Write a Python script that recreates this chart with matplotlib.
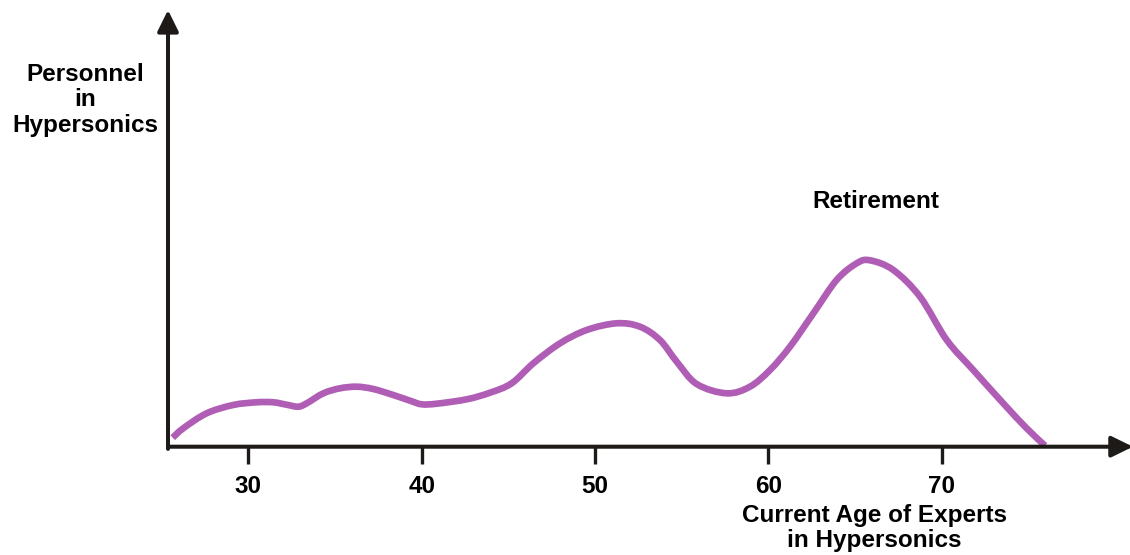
import numpy as np
import matplotlib.pyplot as plt
from matplotlib.path import Path
from matplotlib.patches import PathPatch

plt.rcParams['font.family'] = ['Liberation Sans', 'DejaVu Sans']
plt.rcParams['font.weight'] = 'bold'

# current age of experts (years) and relative personnel count
age = [25.64, 26.25, 27.60, 29.13, 30.48, 31.44, 32.21, 32.88, 33.37, 34.33,
       35.29, 36.25, 37.21, 38.36, 39.33, 40.00, 40.87, 42.60, 43.94, 45.19,
       46.44, 47.98, 49.52, 51.25, 52.59, 53.74, 54.71, 55.86, 57.59, 58.93,
       60.09, 61.24, 62.59, 63.93, 65.09, 65.85, 67.20, 68.74, 70.28, 71.81,
       73.54, 74.89, 75.95]
personnel = [9.0, 18.4, 33.4, 41.7, 44.4, 44.4, 42.0, 40.0, 43.4, 53.4,
             58.4, 60.0, 57.7, 51.7, 46.0, 42.4, 43.0, 47.4, 54.0, 63.4,
             83.4, 103.4, 116.7, 123.4, 120.0, 106.7, 85.0, 62.7, 53.4, 60.0,
             76.7, 100.0, 133.4, 166.7, 183.4, 186.4, 176.7, 150.0, 106.7, 76.7,
             43.4, 18.4, 1.0]

x_ticks = [30, 40, 50, 60, 70]
x_tick_labels = ["30", "40", "50", "60", "70"]

axis_color = "#1e1a18"
curve_color = "#b05eb5"
fs = 17.5


def smooth_path(x, y):
	# catmull-rom through the points, drawn as cubic bezier segments
	p = np.column_stack([x, y])
	verts = [p[0]]
	codes = [Path.MOVETO]
	n = len(p)
	for i in range(n - 1):
		p0 = p[i - 1] if i > 0 else p[i]
		p3 = p[i + 2] if i + 2 < n else p[i + 1]
		c1 = p[i] + (p[i + 1] - p0) / 6
		c2 = p[i + 1] - (p3 - p[i]) / 6
		verts += [c1, c2, p[i + 1]]
		codes += [Path.CURVE4] * 3
	return Path(verts, codes)


fig = plt.figure(figsize=(11.3, 5.55), dpi=100)
ax = fig.add_axes([168/1130, (555-446.7)/555, (1130-168)/1130, (446.7-10)/555])

ax.add_patch(PathPatch(smooth_path(age, personnel), facecolor="none",
                       edgecolor=curve_color, lw=4.8, joinstyle="round",
                       capstyle="butt"))

ax.set_xlim(25.37, 80.85)
ax.set_ylim(0, 436.7)

for s in ax.spines.values():
	s.set_visible(False)

# axes drawn as arrows
arrow = dict(arrowstyle="-|>,head_length=0.65,head_width=0.32", color=axis_color,
             lw=2.9, mutation_scale=20, shrinkA=0, shrinkB=0)
ax.annotate("", xy=(1.003, 0), xytext=(0, 0), xycoords="axes fraction",
            arrowprops=arrow, annotation_clip=False)
ax.annotate("", xy=(0, 1), xytext=(0, -0.005), xycoords="axes fraction",
            arrowprops=arrow, annotation_clip=False)

ax.set_xticks(x_ticks)
ax.set_xticklabels(x_tick_labels, fontsize=fs, fontweight="bold")
ax.set_yticks([])
ax.tick_params(axis="x", direction="out", length=12.5, width=2.4,
               color=axis_color, pad=8)

fig.text(874/1130, 1 - 504/555, "Current Age of Experts\nin Hypersonics",
         ha="center", va="top", fontsize=fs, fontweight="bold", linespacing=1.1)
fig.text(85/1130, 1 - 100/555, "Personnel\nin\nHypersonics",
         ha="center", va="center", fontsize=fs, fontweight="bold", linespacing=1.12)
ax.text(66.2, 245, "Retirement", ha="center", va="center",
        fontsize=fs, fontweight="bold")

fig.savefig("out.png", dpi=100)
